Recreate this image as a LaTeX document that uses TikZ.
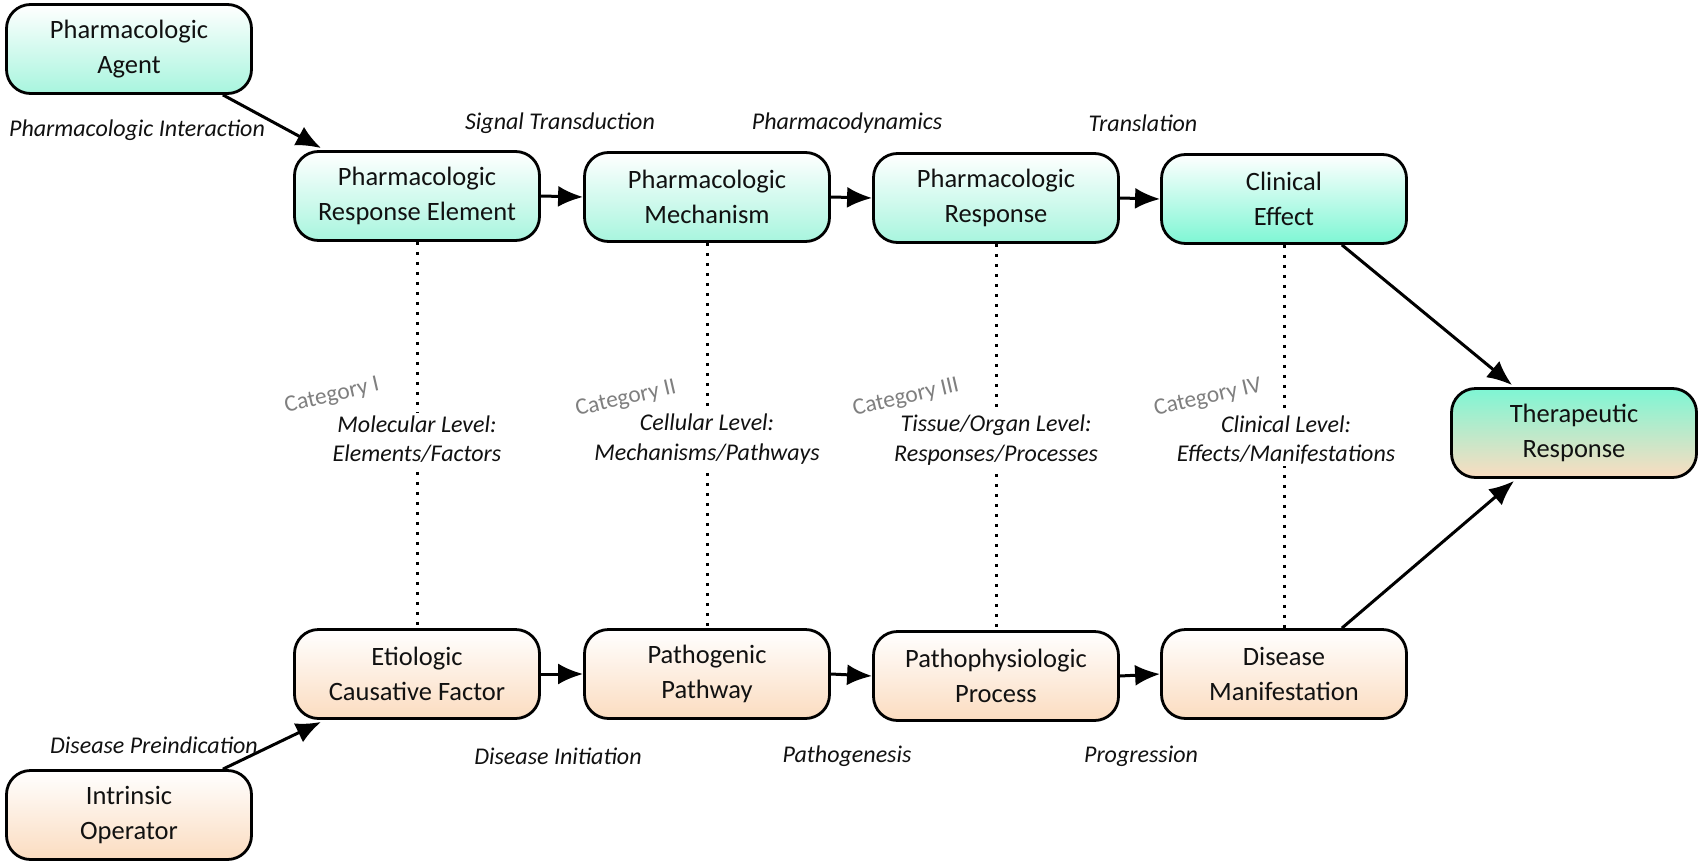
\documentclass[tikz,border=0pt]{standalone}
\usepackage{fontspec}
\setmainfont{Carlito}
\usetikzlibrary{arrows.meta,calc}
\definecolor{mintA}{HTML}{A8F5DE}
\definecolor{mintB}{HTML}{7EF6D4}
\definecolor{peach}{HTML}{FBDCC0}
\definecolor{txt}{HTML}{111111}
\definecolor{catgray}{HTML}{7F7F7F}
\begin{document}
\begin{tikzpicture}[x=1pt,y=-1pt,
  box/.style={draw=black,line width=2.8pt,rounded corners=24pt,minimum width=245pt,minimum height=89pt,
    align=center,text=txt,font=\fontsize{26.5}{34.7}\selectfont},
  pharm/.style={box,top color=white,bottom color=mintA},
  pharmstrong/.style={box,top color=white,bottom color=mintB},
  disbox/.style={box,top color=white,bottom color=peach},
  mixbox/.style={box,top color=mintB,bottom color=peach},
  arr/.style={line width=3pt,-{Latex[length=25pt,width=21pt]}},
  lbl/.style={text=txt,font=\itshape\fontsize{24}{29}\selectfont,inner sep=1pt},
  lvl/.style={fill=white,text=txt,align=center,font=\itshape\fontsize{24}{29.5}\selectfont,inner sep=2pt},
  cat/.style={text=catgray,rotate=13,font=\fontsize{23.5}{27}\selectfont,inner sep=1pt},
  dots/.style={line width=3pt,dash pattern=on 3.5pt off 6.5pt}]
\useasboundingbox (0,0) rectangle (1699,867);

% nodes
\node[pharm] (agent) at (129,49) {Pharmacologic\\Agent};
\node[pharm] (pre) at (417,196) {Pharmacologic\\Response Element};
\node[pharm] (mech) at (707,197) {Pharmacologic\\Mechanism};
\node[pharm] (resp) at (996,198) {Pharmacologic\\Response};
\node[pharmstrong] (clin) at (1284,199) {Clinical\\Effect};
\node[mixbox] (ther) at (1574,433) {Therapeutic\\Response};
\node[disbox] (etio) at (417,674) {Etiologic\\Causative Factor};
\node[disbox] (path) at (707,674) {Pathogenic\\Pathway};
\node[disbox] (phys) at (996,676) {Pathophysiologic\\Process};
\node[disbox] (dis) at (1284,674) {Disease\\Manifestation};
\node[disbox] (intr) at (129,815) {Intrinsic\\Operator};

% dotted level lines
\draw[dots] (pre.south) -- (etio.north);
\draw[dots] (mech.south) -- (path.north);
\draw[dots] (resp.south) -- (phys.north);
\draw[dots] (clin.south) -- (dis.north);

\node[lvl] (l1) at (417,439) {Molecular Level:\\Elements/Factors};
\node[lvl] (l2) at (707,439) {Cellular Level:\\Mechanisms/Pathways};
\node[lvl] (l3) at (996,440) {Tissue/Organ Level:\\Responses/Processes};
\node[lvl] (l4) at (1286,440) {Clinical Level:\\Effects/Manifestations};

\node[cat] (c1) at (332,396) {Category I};
\node[cat] (c2) at (626,399) {Category II};
\node[cat] (c3) at (906,398) {Category III};
\node[cat] (c4) at (1208,398) {Category IV};

% arrows
\draw[arr] ($(agent.south east)+(-30,0)$) -- ($(pre.north west)+(28,-2)$);
\draw[arr] (pre.east) -- (mech.west);
\draw[arr] (mech.east) -- (resp.west);
\draw[arr] (resp.east) -- (clin.west);
\draw[arr] ($(clin.south east)+(-66,0)$) -- ($(ther.north west)+(62,-2)$);
\draw[arr] ($(intr.north east)+(-30,0)$) -- ($(etio.south west)+(28,2)$);
\draw[arr] (etio.east) -- (path.west);
\draw[arr] (path.east) -- (phys.west);
\draw[arr] (phys.east) -- (dis.west);
\draw[arr] ($(dis.north east)+(-66,0)$) -- ($(ther.south west)+(64,2)$);

% edge labels
\node[lbl] (t0) at (137,130) {Pharmacologic Interaction};
\node[lbl] (t1) at (560,123) {Signal Transduction};
\node[lbl] (t2) at (847,123) {Pharmacodynamics};
\node[lbl] (t3) at (1143,123) {Translation};
\node[lbl] (b0) at (154,745) {Disease Preindication};
\node[lbl] (b1) at (558,756) {Disease Initiation};
\node[lbl] (b2) at (847,756) {Pathogenesis};
\node[lbl] (b3) at (1141,756) {Progression};
\end{tikzpicture}
\end{document}
